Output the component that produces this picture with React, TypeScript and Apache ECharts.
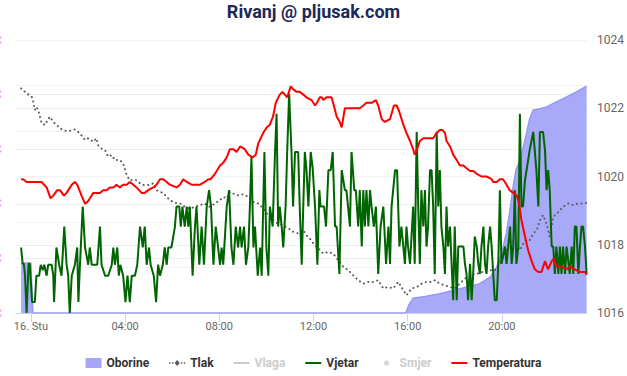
import React, { useEffect, useRef } from "react";
import * as echarts from "echarts";

// time in minutes from midnight (16. Stu), value
const xTickMinutes = [0, 240, 480, 720, 960, 1200];
const xTickLabels = ["16. Stu", "04:00", "08:00", "12:00", "16:00", "20:00"];

const oborine: [number, number][] = [
  [-25, 2.2], [-20, 2.2], [-15, 2.2], [-10, 2.2], [-5, 2.2], [0, 2.2], [5, 0], [955, 0],
  [963, 0.34], [974, 0.65], [1004, 0.73], [1042, 0.85], [1093, 1.07], [1144, 1.29], [1170, 1.58],
  [1187, 2.02], [1199, 2.61], [1212, 3.55], [1220, 4.43], [1229, 5.58], [1236, 6.28], [1246, 6.72],
  [1259, 7.6], [1271, 8.55], [1280, 8.92], [1297, 8.98], [1314, 9.06], [1339, 9.28], [1365, 9.5],
  [1390, 9.72], [1416, 9.97],
];

const tlak: [number, number][] = [
  [-25, 1022.58], [-11, 1022.44], [2, 1022.34], [6, 1022.19], [10, 1021.95], [15, 1022.04], [21, 1021.85],
  [27, 1021.56], [36, 1021.51], [40, 1021.6], [48, 1021.75], [57, 1021.6], [65, 1021.51], [74, 1021.41],
  [87, 1021.34], [99, 1021.34], [112, 1021.38], [125, 1021.26], [138, 1021.07], [146, 1021.12],
  [159, 1021.02], [167, 1021.12], [171, 1020.92], [180, 1020.82], [189, 1020.77], [197, 1020.58],
  [206, 1020.63], [214, 1020.48], [227, 1020.48], [235, 1020.38], [244, 1020.04], [252, 1019.89],
  [261, 1019.91], [269, 1019.89], [278, 1019.8], [286, 1019.75], [299, 1019.75], [312, 1019.8],
  [320, 1019.6], [329, 1019.55], [337, 1019.52], [346, 1019.4], [354, 1019.31], [367, 1019.23],
  [380, 1019.21], [392, 1019.11], [405, 1019.06], [418, 1019.11], [431, 1019.16], [443, 1019.21],
  [456, 1019.11], [469, 1019.21], [482, 1019.31], [490, 1019.4], [499, 1019.36], [507, 1019.55],
  [515, 1019.5], [528, 1019.45], [541, 1019.48], [554, 1019.4], [566, 1019.26], [579, 1019.21],
  [592, 1019.06], [601, 1018.92], [609, 1018.82], [617, 1018.72], [630, 1018.62], [643, 1018.57],
  [656, 1018.48], [668, 1018.38], [681, 1018.33], [694, 1018.43], [702, 1018.28], [711, 1018.18],
  [719, 1018.05], [732, 1017.9], [745, 1017.74], [758, 1017.79], [770, 1017.74], [783, 1017.55],
  [796, 1017.35], [808, 1017.26], [821, 1017.11], [834, 1016.96], [847, 1016.86], [859, 1016.91],
  [872, 1016.91], [885, 1016.96], [898, 1016.72], [910, 1016.76], [923, 1016.72], [936, 1016.91],
  [949, 1016.67], [957, 1016.52], [970, 1016.72], [983, 1016.76], [996, 1016.86], [1008, 1016.91],
  [1021, 1016.91], [1029, 1016.96], [1042, 1016.86], [1055, 1016.81], [1068, 1016.76], [1080, 1016.72],
  [1093, 1016.86], [1106, 1017.01], [1119, 1017.06], [1131, 1017.16], [1144, 1017.16], [1157, 1017.25],
  [1170, 1017.25], [1182, 1017.25], [1195, 1017.45], [1208, 1017.74], [1220, 1018.13], [1233, 1018.08],
  [1246, 1017.84], [1259, 1018.13], [1271, 1018.13], [1280, 1018.33], [1289, 1018.43], [1297, 1018.72],
  [1305, 1018.87], [1314, 1018.62], [1322, 1018.23], [1331, 1018.82], [1344, 1018.96], [1356, 1019.11],
  [1369, 1019.21], [1382, 1019.16], [1394, 1019.21], [1407, 1019.21], [1416, 1019.23],
];

const vjetar: [number, number][] = [
  [-25, 7.2], [-21, 5.4], [-18, 5.4], [-15, 4.1], [-11, 0], [-6, 5.4], [-3, 5.4], [3, 1.2], [10, 1.2],
  [14, 4.1], [21, 4.1], [25, 5.3], [30, 4.7], [34, 5.3], [40, 4.1], [44, 5.3], [53, 5.3], [57, 4.1],
  [59, 1.2], [65, 7.2], [72, 5.3], [78, 4.1], [85, 9.5], [91, 5.3], [95, 4.1], [99, 0], [104, 4.1],
  [112, 5.3], [118, 7.2], [121, 1.2], [125, 5.3], [132, 11.7], [138, 7.2], [146, 5.3], [150, 7.2],
  [155, 5.3], [169, 5.3], [176, 9.5], [180, 5.3], [189, 4.1], [197, 4.1], [206, 5.3], [210, 7.2],
  [214, 5.3], [220, 7.2], [224, 4.1], [228, 5.3], [235, 4.1], [241, 1.2], [246, 4.1], [252, 1.2],
  [257, 4.1], [265, 4.1], [271, 5.3], [278, 9.5], [285, 7.2], [290, 9.5], [295, 5.3], [301, 7.2],
  [305, 5.3], [313, 4.1], [319, 1.2], [324, 5.3], [329, 4.1], [336, 5.3], [341, 7.2], [346, 5.3],
  [350, 7.2], [358, 7.2], [367, 9.5], [371, 11.7], [378, 11.7], [382, 9.5], [386, 11.7], [392, 9.5],
  [397, 11.7], [401, 9.5], [405, 11.7], [412, 4.1], [418, 9.5], [422, 11.7], [429, 5.3], [435, 9.5],
  [441, 5.3], [448, 11.7], [454, 13.5], [459, 11.7], [465, 5.3], [471, 9.5], [477, 7.2], [482, 5.3],
  [486, 7.2], [490, 5.3], [499, 11.7], [505, 13.5], [511, 7.2], [516, 5.3], [522, 9.5], [528, 7.2],
  [533, 9.5], [537, 7.2], [543, 9.5], [548, 5.3], [554, 7.2], [558, 11.7], [562, 17.2], [567, 7.2],
  [571, 9.5], [578, 4.1], [584, 7.2], [588, 4.1], [595, 17.7], [600, 7.2], [605, 4.1], [609, 11.7],
  [616, 9.5], [622, 17.7], [626, 21.9], [630, 9.5], [634, 11.7], [639, 9.5], [643, 7.2], [649, 11.7],
  [653, 17.7], [658, 24.1], [664, 17.7], [668, 11.7], [673, 17.7], [681, 17.7], [685, 11.7], [690, 5.3],
  [694, 11.7], [698, 17.7], [702, 15.9], [707, 11.7], [713, 17.7], [718, 15.9], [724, 11.7], [730, 5.3],
  [735, 13.5], [738, 11.7], [747, 11.7], [752, 9.5], [758, 15.7], [764, 15.7], [769, 17.7], [775, 9.5],
  [779, 9.5], [786, 4.3], [792, 15.7], [800, 13.5], [804, 13.5], [813, 9.5], [817, 17.7], [824, 13.5],
  [828, 13.5], [834, 9.5], [838, 13.5], [843, 7.3], [847, 13.5], [851, 9.5], [855, 13.5], [860, 9.5],
  [864, 13.5], [868, 11.7], [874, 9.5], [879, 11.7], [885, 4.3], [891, 9.5], [898, 11.7], [905, 5.4],
  [911, 9.5], [915, 5.4], [919, 11.7], [923, 13.5], [928, 15.7], [933, 15.7], [939, 7.3], [944, 9.5],
  [949, 7.3], [953, 5.4], [957, 9.5], [961, 7.3], [966, 5.4], [974, 11.7], [978, 5.4], [983, 19.9],
  [987, 11.7], [991, 5.4], [995, 13.5], [1000, 9.5], [1004, 13.5], [1008, 7.3], [1012, 9.5],
  [1017, 15.7], [1021, 15.7], [1025, 11.7], [1029, 4.3], [1034, 19.9], [1038, 11.7], [1042, 15.7],
  [1046, 9.5], [1051, 7.3], [1055, 4.3], [1059, 11.7], [1063, 7.3], [1068, 9.5], [1072, 5.4],
  [1076, 1.4], [1080, 9.5], [1085, 1.4], [1089, 7.3], [1102, 7.3], [1106, 5.4], [1110, 4.3],
  [1114, 1.4], [1119, 5.4], [1123, 1.4], [1127, 4.3], [1131, 8.4], [1136, 7.3], [1140, 5.4],
  [1144, 4.3], [1148, 7.3], [1153, 9.5], [1157, 5.4], [1161, 4.3], [1165, 7.3], [1170, 9.5],
  [1174, 7.3], [1178, 4.3], [1182, 1.4], [1187, 1.4], [1191, 5.4], [1195, 13.5], [1199, 5.4],
  [1208, 7.3], [1212, 5.4], [1221, 9.5], [1225, 5.4], [1229, 7.3], [1233, 13.5], [1237, 5.4],
  [1242, 7.3], [1246, 21.9], [1250, 11.7], [1254, 11.7], [1259, 14.6], [1263, 15.7], [1271, 17.9],
  [1280, 19.9], [1288, 15.7], [1293, 11.7], [1297, 19.9], [1305, 19.9], [1310, 17.9], [1314, 13.5],
  [1318, 15.7], [1322, 13.5], [1327, 7.3], [1331, 7.3], [1335, 4.3], [1339, 7.3], [1344, 4.3],
  [1348, 7.3], [1352, 4.3], [1356, 7.3], [1361, 4.3], [1365, 7.3], [1373, 4.3], [1378, 7.3],
  [1382, 4.3], [1386, 9.5], [1390, 9.5], [1395, 4.3], [1399, 7.3], [1403, 9.5], [1407, 9.5],
  [1412, 7.3], [1416, 4.3],
];

const temperatura: [number, number][] = [
  [-25, 14.9], [-20, 14.9], [-11, 14.8], [27, 14.8], [40, 14.6], [50, 14.2], [57, 14.3], [67, 14.5],
  [74, 14.5], [84, 14.3], [91, 14.4], [104, 14.7], [112, 14.8], [118, 14.7], [129, 14.3], [138, 14.0],
  [146, 14.1], [159, 14.4], [167, 14.4], [176, 14.4], [184, 14.5], [193, 14.5], [201, 14.6], [210, 14.6],
  [218, 14.7], [227, 14.6], [235, 14.7], [244, 14.7], [252, 14.8], [261, 14.7], [269, 14.6], [282, 14.4],
  [290, 14.4], [299, 14.5], [312, 14.6], [320, 14.7], [329, 14.9], [337, 14.9], [346, 14.8], [354, 14.7],
  [371, 14.6], [380, 14.7], [388, 14.9], [397, 14.8], [409, 14.7], [431, 14.7], [443, 14.8], [452, 14.9],
  [458, 14.9], [469, 15.1], [482, 15.4], [490, 15.5], [499, 15.7], [507, 16.0], [516, 16.0], [524, 15.9],
  [533, 16.1], [545, 16.0], [554, 15.8], [565, 15.7], [573, 15.8], [579, 16.2], [592, 16.6], [601, 16.8],
  [609, 16.9], [617, 17.2], [624, 17.7], [634, 18.0], [641, 18.1], [647, 18.0], [653, 17.9], [662, 18.3],
  [668, 18.2], [677, 18.1], [685, 18.1], [694, 18.0], [702, 17.9], [715, 17.8], [724, 17.6], [729, 17.7],
  [736, 17.9], [741, 17.9], [745, 17.8], [753, 17.9], [766, 17.9], [770, 17.7], [779, 17.2], [787, 17.0],
  [792, 16.8], [800, 17.5], [813, 17.5], [838, 17.5], [847, 17.6], [855, 17.7], [868, 17.7], [879, 17.8],
  [885, 17.6], [894, 17.1], [902, 17.0], [915, 17.1], [919, 17.3], [925, 17.6], [932, 17.6], [938, 17.4],
  [949, 16.9], [957, 16.6], [966, 16.3], [974, 16.0], [978, 15.8], [984, 16.0], [991, 16.3], [1000, 16.4],
  [1008, 16.4], [1025, 16.4], [1034, 16.6], [1042, 16.7], [1049, 16.7], [1055, 16.6], [1059, 16.3],
  [1068, 16.1], [1076, 15.8], [1085, 15.6], [1093, 15.4], [1102, 15.4], [1110, 15.3], [1119, 15.2],
  [1127, 15.2], [1136, 15.1], [1148, 15.0], [1161, 15.0], [1174, 14.9], [1178, 14.8], [1187, 14.8],
  [1195, 14.9], [1203, 14.9], [1212, 14.7], [1220, 14.5], [1229, 14.4], [1238, 14.3], [1244, 14.0],
  [1250, 13.4], [1259, 12.8], [1267, 12.3], [1276, 11.9], [1284, 11.6], [1293, 11.5], [1301, 11.5],
  [1310, 11.9], [1318, 11.6], [1327, 11.9], [1333, 12.0], [1339, 11.7], [1352, 11.7], [1365, 11.6],
  [1373, 11.7], [1386, 11.6], [1399, 11.5], [1412, 11.5], [1416, 11.4],
];

const vlaga: [number, number][] = [];
const smjer: [number, number][] = [];

// legend icons (bounding box 16x10 kept by the leading move-to points)
const iconLine = "path://M0 0M16 10M0 4H16V6H0Z";
const iconDotLine =
  "path://M0 0M16 10M0 4.3h1.4v1.4H0zM2.8 4.3h1.4v1.4H2.8zM11.8 4.3h1.4v1.4h-1.4zM14.6 4.3h1.4v1.4h-1.4zM8 2L10.6 5L8 8L5.4 5Z";
const iconDot = "path://M0 0M16 10M10.5 5A2.5 2.5 0 1 1 5.5 5A2.5 2.5 0 1 1 10.5 5Z";

export default function App() {
  const ref = useRef<HTMLDivElement>(null);
  useEffect(() => {
    if (!ref.current) return;
    const chart = echarts.init(ref.current, null, { renderer: "svg" });
    const font = "Roboto, 'Open Sans', sans-serif";
    chart.setOption({
      animation: false,
      backgroundColor: "#ffffff",
      title: {
        text: "Rivanj @ pljusak.com",
        left: "center",
        top: -3,
        textStyle: { fontSize: 18, fontWeight: "bold", color: "#1c2858", fontFamily: font },
      },
      legend: {
        top: 352,
        left: "center",
        itemWidth: 16,
        itemHeight: 10,
        itemGap: 20,
        inactiveColor: "#cccccc",
        textStyle: { fontSize: 12, fontWeight: "bold", color: "#333333", fontFamily: font },
        selected: { Vlaga: false, Smjer: false },
        data: [
          { name: "Oborine", icon: "rect" },
          { name: "Tlak", icon: iconDotLine },
          { name: "Vlaga", icon: iconLine },
          { name: "Vjetar", icon: iconLine },
          { name: "Smjer", icon: iconDot },
          { name: "Temperatura", icon: iconLine },
        ],
      },
      grid: { left: 16, right: 40, top: 40, bottom: 63, containLabel: false, outerBoundsMode: "none" },
      xAxis: {
        type: "value",
        min: -38,
        max: 1417,
        splitLine: { show: false },
        axisLine: { show: true, lineStyle: { color: "#ccd6eb" } },
        axisTick: { show: true, length: 9, customValues: xTickMinutes, lineStyle: { color: "#ccd6eb" } },
        axisLabel: {
          customValues: xTickMinutes,
          color: "#666666",
          fontSize: 11,
          fontFamily: font,
          margin: 8,
          formatter: (v: number) => {
            const i = xTickMinutes.indexOf(v);
            return i >= 0 ? xTickLabels[i] : "";
          },
        },
      },
      yAxis: [
        {
          type: "value",
          position: "left",
          min: 10,
          max: 20,
          interval: 2,
          axisLine: { show: false },
          axisTick: { show: false },
          splitLine: { lineStyle: { color: "#eeeeee" } },
          axisLabel: { color: "#ee82ee", fontSize: 11, margin: 14, formatter: "{value}°C", fontFamily: font },
        },
        {
          type: "value",
          position: "right",
          min: 1016,
          max: 1024,
          interval: 2,
          axisLine: { show: false },
          axisTick: { show: false },
          splitLine: { lineStyle: { color: "#eeeeee" } },
          axisLabel: {
            color: "#666666",
            fontSize: 12,
            margin: 10,
            fontFamily: font,
            formatter: (v: number) => String(v),
          },
        },
        {
          type: "value",
          position: "left",
          min: 0,
          max: 30,
          interval: 5,
          axisLine: { show: false },
          axisTick: { show: false },
          axisLabel: { show: false },
          splitLine: { lineStyle: { color: "#f2f2f2" } },
        },
        {
          type: "value",
          position: "right",
          min: 0,
          max: 12,
          axisLine: { show: false },
          axisTick: { show: false },
          axisLabel: { show: false },
          splitLine: { show: false },
        },
      ],
      series: [
        {
          name: "Oborine",
          type: "line",
          yAxisIndex: 3,
          data: oborine,
          symbol: "none",
          itemStyle: { color: "#a6a6f8" },
          lineStyle: { color: "#9898f2", width: 1.5 },
          areaStyle: { color: "#a9a9f9", opacity: 1 },
          z: 1,
        },
        {
          name: "Tlak",
          type: "line",
          yAxisIndex: 1,
          data: tlak,
          symbol: "none",
          itemStyle: { color: "#5a5a5a" },
          lineStyle: { color: "#5a5a5a", width: 2, type: [0.1, 4.5], cap: "round" },
          z: 2,
        },
        {
          name: "Vlaga",
          type: "line",
          yAxisIndex: 2,
          data: vlaga,
          symbol: "none",
          itemStyle: { color: "#999999" },
          lineStyle: { color: "#999999", width: 2 },
          z: 3,
        },
        {
          name: "Vjetar",
          type: "line",
          yAxisIndex: 2,
          data: vjetar,
          symbol: "none",
          itemStyle: { color: "#006400" },
          lineStyle: { color: "#006400", width: 2 },
          z: 4,
        },
        {
          name: "Smjer",
          type: "scatter",
          yAxisIndex: 2,
          data: smjer,
          symbolSize: 5,
          itemStyle: { color: "#999999" },
          z: 5,
        },
        {
          name: "Temperatura",
          type: "line",
          yAxisIndex: 0,
          data: temperatura,
          symbol: "none",
          itemStyle: { color: "#ff0000" },
          lineStyle: { color: "#ff0000", width: 2 },
          z: 6,
        },
      ],
    });
    return () => chart.dispose();
  }, []);
  return (
    <div
      ref={ref}
      style={{ position: "fixed", left: 0, top: 0, width: 627, height: 376 }}
    />
  );
}
